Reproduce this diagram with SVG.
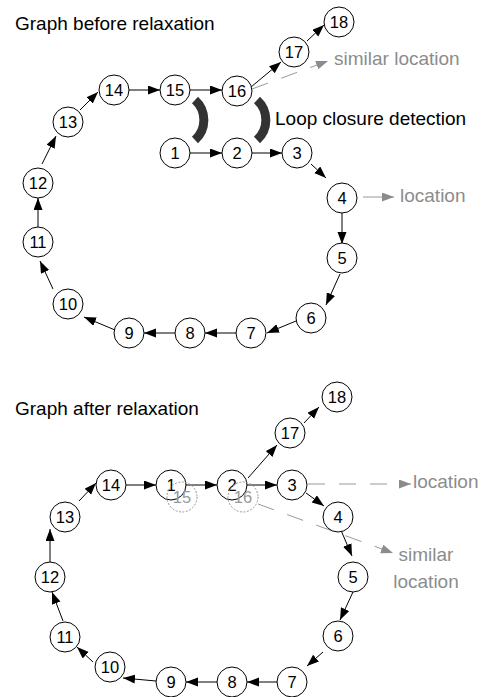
<svg xmlns="http://www.w3.org/2000/svg" width="487" height="697" viewBox="0 0 487 697">
<defs>
<style>
.nd circle{fill:#fff;stroke:#000;stroke-width:1}
.nd text{font-family:"Liberation Sans",Arial,sans-serif;font-size:16.5px;fill:#000;text-anchor:middle}
.gh circle{fill:none;stroke:#999;stroke-width:1;stroke-dasharray:2 1.5}
.gh text{font-family:"Liberation Sans",Arial,sans-serif;font-size:16.5px;fill:#999;text-anchor:middle}
.e{stroke:#000;stroke-width:1;fill:none;marker-end:url(#ah)}
.g{stroke:#999;stroke-width:1;fill:none;marker-end:url(#ahg)}
.gd{stroke:#999;stroke-width:1;fill:none;stroke-dasharray:17 14;marker-end:url(#ahg)}
.t{font-family:"Liberation Sans",Arial,sans-serif;font-size:19px;fill:#000}
.tg{font-family:"Liberation Sans",Arial,sans-serif;font-size:19px;fill:#8c8c8c}
.br{fill:none;stroke:#333;stroke-width:9}
</style>
<marker id="ah" markerUnits="userSpaceOnUse" markerWidth="13" markerHeight="10" refX="12" refY="4.5" orient="auto"><path d="M0,0 L12,4.5 L0,9 z" fill="#000"/></marker>
<marker id="ahg" markerUnits="userSpaceOnUse" markerWidth="13" markerHeight="10" refX="12" refY="4.5" orient="auto"><path d="M0,0 L12,4.5 L0,9 z" fill="#8c8c8c"/></marker>
</defs>
<rect width="487" height="697" fill="#fff"/>
<text class="t" x="15" y="30">Graph before relaxation</text>
<text class="t" x="15" y="415">Graph after relaxation</text>
<text class="t" x="275" y="125">Loop closure detection</text>
<text class="tg" x="334" y="65">similar location</text>
<text class="tg" x="400" y="202">location</text>
<text class="tg" x="413" y="488">location</text>
<text class="tg" x="426" y="561" text-anchor="middle">similar</text>
<text class="tg" x="426" y="588" text-anchor="middle">location</text>
<g id="loop-closure-marks">
<path class="br" d="M195,100 A27,27 0 0 1 195,140"/>
<path class="br" d="M257,100 A27,27 0 0 1 257,140"/>
</g>
<g id="connectors">
<line class="e" x1="190" y1="153" x2="222" y2="153"/>
<line class="e" x1="252" y1="153" x2="282" y2="153"/>
<line class="e" x1="311" y1="164" x2="326" y2="178"/>
<line class="e" x1="342" y1="213" x2="342" y2="244"/>
<line class="e" x1="340" y1="274" x2="326" y2="305"/>
<line class="e" x1="296" y1="321" x2="267" y2="333"/>
<line class="e" x1="236" y1="333" x2="205" y2="333"/>
<line class="e" x1="175" y1="333" x2="144" y2="333"/>
<line class="e" x1="115" y1="330" x2="84" y2="317"/>
<line class="e" x1="53" y1="289" x2="40" y2="261"/>
<line class="e" x1="38" y1="227" x2="38" y2="198"/>
<line class="e" x1="42" y1="164" x2="56" y2="136"/>
<line class="e" x1="80" y1="110" x2="98" y2="92"/>
<line class="e" x1="129" y1="90" x2="160" y2="90"/>
<line class="e" x1="190" y1="90" x2="222" y2="90"/>
<line class="e" x1="251" y1="87" x2="281" y2="62"/>
<line class="e" x1="307" y1="41" x2="324" y2="25"/>
<line class="gd" x1="252" y1="89" x2="328" y2="61"/>
<line class="g" x1="363" y1="197" x2="394" y2="197"/>
<line class="e" x1="126" y1="485" x2="156" y2="485"/>
<line class="e" x1="186" y1="485" x2="217" y2="485"/>
<line class="e" x1="247" y1="485" x2="277" y2="485"/>
<line class="e" x1="248" y1="478" x2="277" y2="445"/>
<line class="e" x1="304" y1="423" x2="319" y2="407"/>
<line class="e" x1="306" y1="493" x2="324" y2="506"/>
<line class="e" x1="340" y1="528" x2="352" y2="556"/>
<line class="e" x1="353" y1="592" x2="340" y2="620"/>
<line class="e" x1="323" y1="652" x2="307" y2="666"/>
<line class="e" x1="277" y1="682" x2="247" y2="682"/>
<line class="e" x1="217" y1="682" x2="186" y2="682"/>
<line class="e" x1="156" y1="681" x2="123" y2="678"/>
<line class="e" x1="93" y1="662" x2="77" y2="647"/>
<line class="e" x1="63" y1="621" x2="52" y2="592"/>
<line class="e" x1="50" y1="562" x2="50" y2="529"/>
<line class="e" x1="79" y1="501" x2="96" y2="483"/>
<line class="gd" x1="308" y1="484" x2="411" y2="484"/>
<line class="gd" x1="258" y1="504" x2="393" y2="553"/>
</g>
<g id="top-n1" class="nd"><circle cx="175" cy="153" r="15"/><text x="175" y="159">1</text></g>
<g id="top-n2" class="nd"><circle cx="237" cy="153" r="15"/><text x="237" y="159">2</text></g>
<g id="top-n3" class="nd"><circle cx="297" cy="153" r="15"/><text x="297" y="159">3</text></g>
<g id="top-n4" class="nd"><circle cx="342" cy="198" r="15"/><text x="342" y="204">4</text></g>
<g id="top-n5" class="nd"><circle cx="342" cy="258" r="15"/><text x="342" y="264">5</text></g>
<g id="top-n6" class="nd"><circle cx="311" cy="318" r="15"/><text x="311" y="324">6</text></g>
<g id="top-n7" class="nd"><circle cx="251" cy="333" r="15"/><text x="251" y="339">7</text></g>
<g id="top-n8" class="nd"><circle cx="190" cy="333" r="15"/><text x="190" y="339">8</text></g>
<g id="top-n9" class="nd"><circle cx="129" cy="333" r="15"/><text x="129" y="339">9</text></g>
<g id="top-n10" class="nd"><circle cx="68" cy="304" r="15"/><text x="68" y="310">10</text></g>
<g id="top-n11" class="nd"><circle cx="38" cy="242" r="15"/><text x="38" y="248">11</text></g>
<g id="top-n12" class="nd"><circle cx="38" cy="183" r="15"/><text x="38" y="189">12</text></g>
<g id="top-n13" class="nd"><circle cx="68" cy="122" r="15"/><text x="68" y="128">13</text></g>
<g id="top-n14" class="nd"><circle cx="114" cy="90" r="15"/><text x="114" y="96">14</text></g>
<g id="top-n15" class="nd"><circle cx="175" cy="90" r="15"/><text x="175" y="96">15</text></g>
<g id="top-n16" class="nd"><circle cx="237" cy="91" r="15"/><text x="237" y="97">16</text></g>
<g id="top-n17" class="nd"><circle cx="294" cy="52" r="15"/><text x="294" y="58">17</text></g>
<g id="top-n18" class="nd"><circle cx="339" cy="22" r="15"/><text x="339" y="28">18</text></g>
<g id="bot-n1" class="nd"><circle cx="171" cy="485" r="15"/><text x="171" y="491">1</text></g>
<g id="bot-n2" class="nd"><circle cx="232" cy="485" r="15"/><text x="232" y="491">2</text></g>
<g id="bot-n3" class="nd"><circle cx="292" cy="485" r="15"/><text x="292" y="491">3</text></g>
<g id="bot-n4" class="nd"><circle cx="338" cy="517" r="15"/><text x="338" y="523">4</text></g>
<g id="bot-n5" class="nd"><circle cx="353" cy="577" r="15"/><text x="353" y="583">5</text></g>
<g id="bot-n6" class="nd"><circle cx="338" cy="636" r="15"/><text x="338" y="642">6</text></g>
<g id="bot-n7" class="nd"><circle cx="292" cy="682" r="15"/><text x="292" y="688">7</text></g>
<g id="bot-n8" class="nd"><circle cx="232" cy="682" r="15"/><text x="232" y="688">8</text></g>
<g id="bot-n9" class="nd"><circle cx="171" cy="682" r="15"/><text x="171" y="688">9</text></g>
<g id="bot-n10" class="nd"><circle cx="110" cy="667" r="15"/><text x="110" y="673">10</text></g>
<g id="bot-n11" class="nd"><circle cx="65" cy="637" r="15"/><text x="65" y="643">11</text></g>
<g id="bot-n12" class="nd"><circle cx="50" cy="577" r="15"/><text x="50" y="583">12</text></g>
<g id="bot-n13" class="nd"><circle cx="65" cy="517" r="15"/><text x="65" y="523">13</text></g>
<g id="bot-n14" class="nd"><circle cx="111" cy="485" r="15"/><text x="111" y="491">14</text></g>
<g id="bot-n17" class="nd"><circle cx="290" cy="433" r="15"/><text x="290" y="439">17</text></g>
<g id="bot-n18" class="nd"><circle cx="337" cy="397" r="15"/><text x="337" y="403">18</text></g>
<g id="bot-n15-old" class="gh"><circle cx="182" cy="497" r="15"/><text x="182" y="503">15</text></g>
<g id="bot-n16-old" class="gh"><circle cx="243" cy="497" r="15"/><text x="243" y="503">16</text></g>
</svg>
